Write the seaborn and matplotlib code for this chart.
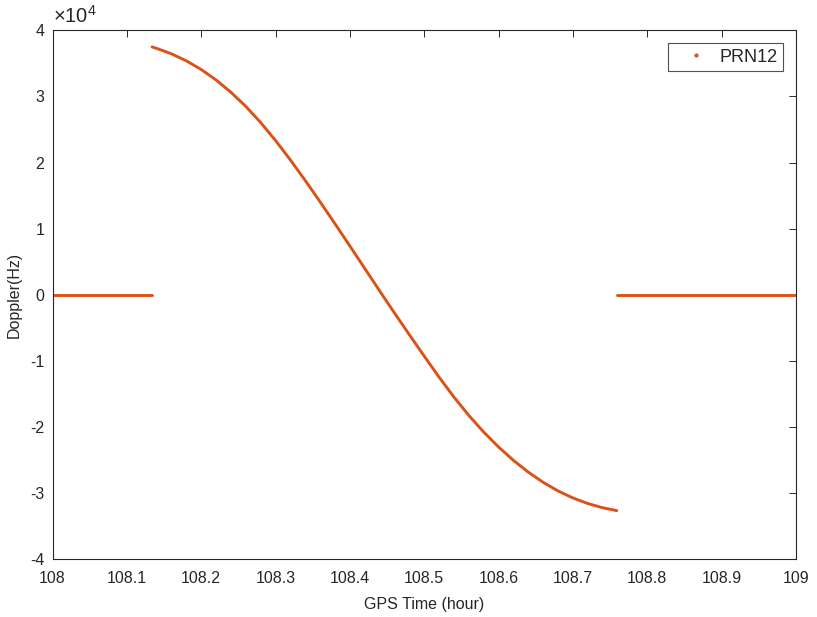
"""Doppler of PRN12 over one GPS hour, redrawn in a MATLAB-like style."""

import matplotlib
matplotlib.use("Agg")
import matplotlib.pyplot as plt
import pandas as pd
import seaborn as sns
from matplotlib.lines import Line2D

# --- data -------------------------------------------------------------------
# visible pass: time (hour) and Doppler (Hz)
curve_hours = [
    108.1338, 108.14, 108.16, 108.18, 108.20, 108.22, 108.24, 108.26,
    108.28, 108.30, 108.32, 108.34, 108.36, 108.38, 108.40, 108.42,
    108.44, 108.46, 108.48, 108.50, 108.52, 108.54, 108.56, 108.58,
    108.60, 108.62, 108.64, 108.66, 108.68, 108.70, 108.72, 108.74,
    108.7589,
]
curve_doppler = [
    37490, 37270, 36440, 35380, 34070, 32490, 30630, 28490,
    26050, 23330, 20390, 17280, 14050, 10740, 7380, 3990,
    600, -2750, -6030, -9270, -12450, -15460, -18230, -20740,
    -23000, -25020, -26800, -28340, -29640, -30700, -31540, -32180,
    -32615,
]
# satellite not tracked: Doppler reported as zero
idle_before_hours = [108.0, 108.1335]
idle_after_hours = [108.7595, 109.0]
idle_doppler = [0, 0]

x_ticks = [108.0, 108.1, 108.2, 108.3, 108.4, 108.5, 108.6, 108.7, 108.8, 108.9, 109.0]
x_tick_labels = ["108", "108.1", "108.2", "108.3", "108.4", "108.5",
                 "108.6", "108.7", "108.8", "108.9", "109"]
y_ticks = [-40000, -30000, -20000, -10000, 0, 10000, 20000, 30000, 40000]
y_tick_labels = ["-4", "-3", "-2", "-1", "0", "1", "2", "3", "4"]

SERIES = "PRN12"
ORANGE = "#D95319"
INK = "#262626"

sns.set_style("white")
plt.rcParams["font.family"] = ["Liberation Sans", "DejaVu Sans"]
plt.rcParams["axes.unicode_minus"] = False
plt.rcParams["mathtext.fontset"] = "custom"
plt.rcParams["mathtext.rm"] = "Liberation Sans"

curve = pd.DataFrame({"hour": curve_hours, "doppler": curve_doppler})
before = pd.DataFrame({"hour": idle_before_hours, "doppler": idle_doppler})
after = pd.DataFrame({"hour": idle_after_hours, "doppler": idle_doppler})

fig = plt.figure(figsize=(8.17, 6.17), dpi=100)
ax = fig.add_axes([0.0643, 0.0932, 0.9100, 0.8577])

for part in (before, curve, after):
    sns.lineplot(data=part, x="hour", y="doppler", color=ORANGE,
                 linewidth=2.1, sort=False, ax=ax)

ax.set_xlim(108, 109)
ax.set_ylim(-40000, 40000)
ax.set_xticks(x_ticks)
ax.set_xticklabels(x_tick_labels)
ax.set_yticks(y_ticks)
ax.set_yticklabels(y_tick_labels)

ax.tick_params(direction="in", length=5, width=0.7, top=True, right=True,
               labelsize=11.5, colors=INK)
ax.tick_params(axis="x", pad=8)
ax.tick_params(axis="y", pad=6)
for side in ax.spines.values():
    side.set_visible(True)
    side.set_color(INK)
    side.set_linewidth(0.8)

ax.set_xlabel("GPS Time (hour)", fontsize=11.5, color=INK, labelpad=8)
ax.set_ylabel("Doppler(Hz)", fontsize=11.5, color=INK, labelpad=6)
ax.text(0.0, 1.006, r"$\times\mathregular{10^{4}}$", transform=ax.transAxes,
        ha="left", va="bottom", fontsize=14.5, color=INK)

handle = Line2D([], [], linestyle="none", marker=".", markersize=4, color=ORANGE)
leg = ax.legend([handle], [SERIES], loc="upper right", fontsize=13,
                frameon=True, fancybox=False, edgecolor=INK,
                borderaxespad=0.72, handlelength=2.5, handletextpad=0.05,
                borderpad=0.3)
leg.get_frame().set_linewidth(0.8)

fig.savefig("out.png", dpi=100)
